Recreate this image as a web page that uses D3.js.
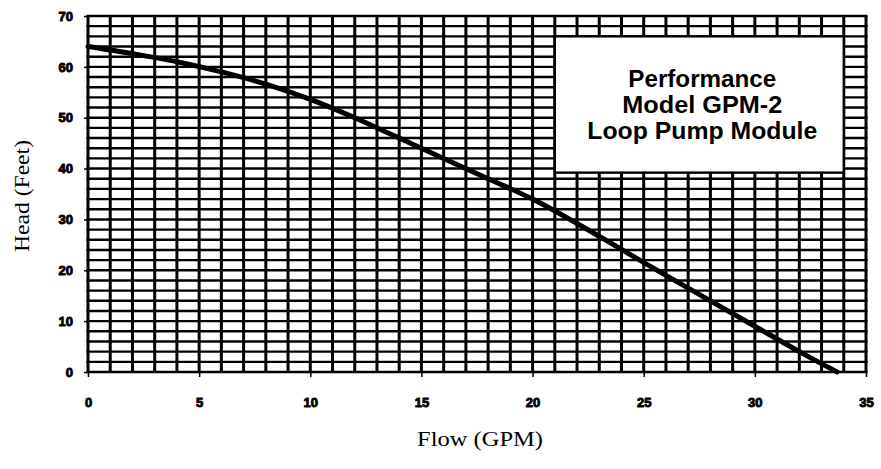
<!DOCTYPE html>
<html>
<head>
<meta charset="utf-8">
<script src="https://cdn.jsdelivr.net/npm/d3@7"></script>
<style>
  html, body { margin: 0; padding: 0; background: #fff; }
  svg { display: block; }
</style>
</head>
<body>
<svg id="chart" width="881" height="469"></svg>
<script>
// ---- data ----
const flowGPM = [0, 2, 4, 6, 8, 10, 12, 14, 16, 18, 20, 22, 24, 26, 28, 30, 32, 33.7];
const headFeet = [64, 62.6, 61, 59, 56.6, 53.6, 50, 46, 42, 38, 34, 29.2, 24.1, 19, 14, 9, 4, 0];
const xTickValues = [0, 5, 10, 15, 20, 25, 30, 35];
const yTickValues = [0, 10, 20, 30, 40, 50, 60, 70];
const titleLines = ["Performance", "Model GPM-2", "Loop Pump Module"];
const xTitle = "Flow (GPM)";
const yTitle = "Head (Feet)";
const boxFlow = [21, 34];
const boxHead = [39.2, 66];

(function () {
// ---- layout ----
const svg = d3.select("#chart");
const mLeft = 88, mRight = 866, mTop = 16, mBottom = 372;
const x = d3.scaleLinear().domain([0, 35]).range([mLeft, mRight]);
const y = d3.scaleLinear().domain([0, 70]).range([mBottom, mTop]);

const g = svg.append("g");

// grid
const vGrid = d3.range(0, 36, 1);
const hGrid = d3.range(0, 71, 2);
g.selectAll("line.v").data(vGrid).enter().append("line")
  .attr("class", "v")
  .attr("x1", d => x(d)).attr("x2", d => x(d))
  .attr("y1", y(0)).attr("y2", y(70))
  .attr("stroke", "#000").attr("stroke-width", 3);
g.selectAll("line.h").data(hGrid).enter().append("line")
  .attr("class", "h")
  .attr("x1", x(0) - 1.5).attr("x2", x(35) + 1.5)
  .attr("y1", d => y(d)).attr("y2", d => y(d))
  .attr("stroke", "#000").attr("stroke-width", 2.4);

// axes ticks via d3 axes
const xAxis = d3.axisBottom(x).tickValues(xTickValues).tickSize(5).tickPadding(21).tickFormat(d3.format("d"));
const yAxis = d3.axisLeft(y).tickValues(yTickValues).tickSize(4).tickPadding(11).tickFormat(d3.format("d"));
const gx = svg.append("g").attr("transform", `translate(0,${mBottom})`).call(xAxis);
const gy = svg.append("g").attr("transform", `translate(${mLeft},0)`).call(yAxis);
[gx, gy].forEach(a => {
  a.select(".domain").remove();
  a.selectAll(".tick line").attr("stroke", "#000").attr("stroke-width", 1.5);
  a.selectAll(".tick text")
    .attr("fill", "#000")
    .style("font-family", "'Liberation Sans', Arial, sans-serif")
    .style("font-weight", "900")
    .style("font-size", "13px")
    .style("stroke", "#000").style("stroke-width", "0.9px");
});

// info box (covers grid)
g.append("rect")
  .attr("x", x(boxFlow[0])).attr("y", y(boxHead[1]))
  .attr("width", x(boxFlow[1]) - x(boxFlow[0]))
  .attr("height", y(boxHead[0]) - y(boxHead[1]))
  .attr("fill", "#fff").attr("stroke", "#000").attr("stroke-width", 2.4);

const cx = (x(boxFlow[0]) + x(boxFlow[1])) / 2 + 3;
const baselines = [87, 113, 139];
const widths = [148, 160, 230];
g.selectAll("text.title").data(titleLines).enter().append("text")
  .attr("class", "title")
  .attr("x", cx).attr("y", (d, i) => baselines[i])
  .attr("text-anchor", "middle")
  .attr("textLength", (d, i) => widths[i])
  .attr("lengthAdjust", "spacingAndGlyphs")
  .style("font-family", "'Liberation Sans', Arial, sans-serif")
  .style("font-weight", "bold")
  .style("font-size", "23px")
  .attr("fill", "#000")
  .text(d => d);

// curve
const pts = flowGPM.map((f, i) => [f, headFeet[i]]);
g.append("path")
  .datum(pts)
  .attr("fill", "none").attr("stroke", "#000").attr("stroke-width", 5)
  .attr("stroke-linecap", "round")
  .attr("d", d3.line().x(d => x(d[0])).y(d => y(d[1])).curve(d3.curveMonotoneX));

// axis titles
svg.append("text")
  .attr("x", 480).attr("y", 446)
  .attr("text-anchor", "middle")
  .attr("textLength", 126)
  .attr("lengthAdjust", "spacingAndGlyphs")
  .style("font-family", "'Liberation Serif', 'Times New Roman', serif")
  .style("font-size", "21px")
  .attr("fill", "#000")
  .text(xTitle);
svg.append("text")
  .attr("transform", "translate(29,196) rotate(-90)")
  .attr("text-anchor", "middle")
  .attr("textLength", 112)
  .attr("lengthAdjust", "spacingAndGlyphs")
  .style("font-family", "'Liberation Serif', 'Times New Roman', serif")
  .style("font-size", "21px")
  .attr("fill", "#000")
  .text(yTitle);
})();
</script>
</body>
</html>
